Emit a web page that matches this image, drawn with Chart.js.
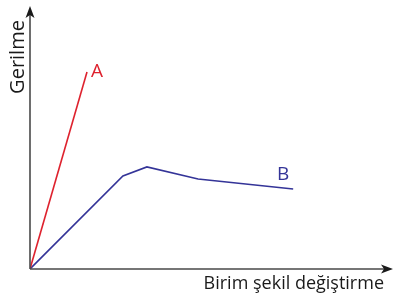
<!DOCTYPE html>
<html lang="tr">
<head>
<meta charset="UTF-8">
<title>Gerilme - Birim şekil değiştirme</title>
<script src="https://cdn.jsdelivr.net/npm/chart.js"></script>
<style>
  html, body { margin: 0; padding: 0; background: #fff; }
  #wrap { width: 395px; height: 296px; }
</style>
</head>
<body>
<div id="wrap"><canvas id="chart" width="395" height="296"></canvas></div>
<script>
// values (arbitrary units, axes 0..100)
var seriesA_x = [0, 15.7];
var seriesA_y = [0, 74.9];
var seriesB_x = [0, 25.6, 32.2, 46.3, 72.5];
var seriesB_y = [0, 35.4, 38.8, 34.2, 30.4];
var seriesNames = ['A', 'B'];
var xTitle = 'Birim şekil değiştirme';
var yTitle = 'Gerilme';

function toPoints(xs, ys) {
    return xs.map(function (x, i) { return { x: x, y: ys[i] }; });
}

var font = '"Open Sans", "DejaVu Sans", sans-serif';

// axes with arrows, titles and the A / B labels
var axesPlugin = {
    id: 'axesArrows',
    afterDatasetsDraw: function (chart) {
        var ctx = chart.ctx;
        var a = chart.chartArea;
        var xs = chart.scales.x, ys = chart.scales.y;
        var ox = xs.getPixelForValue(0), oy = ys.getPixelForValue(0);
        ctx.save();
        ctx.strokeStyle = '#4a4a4a';
        ctx.lineWidth = 1.6;
        ctx.beginPath();
        ctx.moveTo(ox, oy);
        ctx.lineTo(ox, a.top + 6);
        ctx.moveTo(ox, oy);
        ctx.lineTo(a.right - 6, oy);
        ctx.stroke();
        ctx.fillStyle = '#1a1a1a';
        ctx.beginPath();
        ctx.moveTo(ox, a.top);
        ctx.lineTo(ox - 4.5, a.top + 12);
        ctx.lineTo(ox, a.top + 9);
        ctx.lineTo(ox + 4.5, a.top + 12);
        ctx.closePath();
        ctx.fill();
        ctx.beginPath();
        ctx.moveTo(a.right, oy);
        ctx.lineTo(a.right - 12, oy - 4.5);
        ctx.lineTo(a.right - 9, oy);
        ctx.lineTo(a.right - 12, oy + 4.5);
        ctx.closePath();
        ctx.fill();

        ctx.fillStyle = '#1a1a1a';
        ctx.font = '18px ' + font;
        ctx.textAlign = 'right';
        ctx.textBaseline = 'alphabetic';
        ctx.fillText(xTitle, 384, 289);
        ctx.save();
        ctx.translate(24, 57);
        ctx.rotate(-Math.PI / 2);
        ctx.textAlign = 'center';
        ctx.font = '20px ' + font;
        ctx.fillText(yTitle, 0, 0);
        ctx.restore();

        // series labels next to line ends
        chart.data.datasets.forEach(function (ds, i) {
            var last = ds.data[ds.data.length - 1];
            var px = xs.getPixelForValue(last.x), py = ys.getPixelForValue(last.y);
            ctx.fillStyle = ds.borderColor;
            ctx.font = '19px ' + font;
            ctx.textAlign = 'center';
            ctx.textBaseline = 'middle';
            if (i === 0) ctx.fillText(ds.label, px + 10, py);
            else ctx.fillText(ds.label, px - 10, py - 14);
        });
        ctx.restore();
    }
};

new Chart(document.getElementById('chart'), {
    type: 'line',
    data: {
        datasets: [{
            label: seriesNames[0],
            data: toPoints(seriesA_x, seriesA_y),
            borderColor: 'rgb(222, 34, 46)',
            borderWidth: 1.6,
            pointRadius: 0,
            fill: false,
            tension: 0
        }, {
            label: seriesNames[1],
            data: toPoints(seriesB_x, seriesB_y),
            borderColor: 'rgb(52, 52, 152)',
            borderWidth: 1.6,
            pointRadius: 0,
            fill: false,
            tension: 0
        }]
    },
    plugins: [axesPlugin],
    options: {
        responsive: false,
        animation: false,
        layout: { padding: { left: 30, top: 6, right: 2, bottom: 27 } },
        plugins: { legend: { display: false }, tooltip: { enabled: false } },
        scales: {
            x: { type: 'linear', min: 0, max: 100, display: false },
            y: { type: 'linear', min: 0, max: 100, display: false }
        }
    }
});
</script>
</body>
</html>
